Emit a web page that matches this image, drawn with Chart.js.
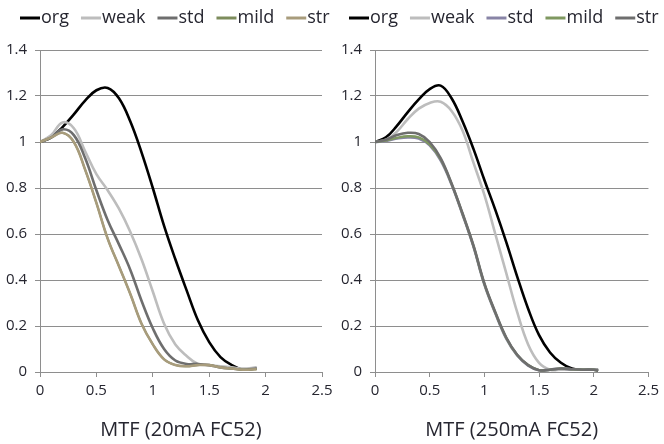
<!DOCTYPE html>
<html>
<head>
<meta charset="utf-8">
<script src="https://cdn.jsdelivr.net/npm/chart.js@4.4.0/dist/chart.umd.min.js"></script>
<style>
html, body { margin: 0; padding: 0; background: #fff; }
#wrap { position: relative; width: 664px; height: 444px; overflow: hidden; }
.box { position: absolute; top: 0; height: 444px; }
#boxL { left: 0; width: 345px; }
#boxR { left: 332px; width: 332px; }
</style>
</head>
<body>
<div id="wrap">
  <div class="box" id="boxL"><canvas id="mtf20" width="345" height="444"></canvas></div>
  <div class="box" id="boxR"><canvas id="mtf250" width="332" height="444"></canvas></div>
</div>
<script>
// series names (legend order)
const seriesNames = ['org', 'weak', 'std', 'mild', 'str'];

// left panel: MTF (20mA FC52)
const freq20 = [0, 0.1, 0.2, 0.3, 0.4, 0.5, 0.6, 0.7, 0.8, 0.9, 1.0, 1.1, 1.2, 1.3, 1.4, 1.5, 1.6, 1.7, 1.8, 1.92];
const org20  = [1, 1.02, 1.065, 1.12, 1.18, 1.225, 1.235, 1.19, 1.09, 0.955, 0.8, 0.635, 0.49, 0.355, 0.225, 0.13, 0.065, 0.03, 0.01, 0.017];
const weak20 = [1, 1.03, 1.085, 1.06, 0.96, 0.86, 0.79, 0.71, 0.61, 0.49, 0.35, 0.21, 0.12, 0.07, 0.035, 0.03, 0.025, 0.02, 0.015, 0.02];
const std20  = [1, 1.02, 1.055, 1.03, 0.93, 0.79, 0.66, 0.555, 0.445, 0.31, 0.19, 0.1, 0.05, 0.035, 0.035, 0.03, 0.02, 0.015, 0.01, 0.015];
const mild20 = [1, 1.02, 1.04, 1.0, 0.88, 0.735, 0.58, 0.46, 0.34, 0.21, 0.12, 0.055, 0.03, 0.025, 0.03, 0.03, 0.02, 0.015, 0.01, 0.012];
const str20  = [1, 1.02, 1.04, 1.0, 0.88, 0.735, 0.58, 0.46, 0.34, 0.21, 0.12, 0.055, 0.03, 0.025, 0.03, 0.03, 0.02, 0.015, 0.01, 0.012];

// right panel: MTF (250mA FC52)
const freq250 = [0, 0.1, 0.2, 0.3, 0.4, 0.5, 0.6, 0.7, 0.8, 0.9, 1.0, 1.1, 1.2, 1.3, 1.4, 1.5, 1.6, 1.7, 1.8, 1.9, 2.0, 2.04];
const org250  = [1, 1.02, 1.07, 1.13, 1.185, 1.23, 1.245, 1.19, 1.09, 0.97, 0.835, 0.705, 0.565, 0.415, 0.275, 0.16, 0.085, 0.04, 0.015, 0.01, 0.01, 0.01];
const weak250 = [1, 1.01, 1.045, 1.1, 1.145, 1.17, 1.175, 1.135, 1.05, 0.91, 0.77, 0.6, 0.43, 0.26, 0.12, 0.04, 0.01, 0.01, 0.01, 0.01, 0.01, 0.01];
const std250  = [1, 1.005, 1.015, 1.02, 1.015, 0.985, 0.92, 0.815, 0.685, 0.545, 0.38, 0.255, 0.145, 0.072, 0.028, 0.008, 0.01, 0.015, 0.012, 0.01, 0.01, 0.005];
const mild250 = [1, 1.006, 1.018, 1.025, 1.02, 0.99, 0.925, 0.818, 0.688, 0.548, 0.383, 0.258, 0.148, 0.074, 0.03, 0.008, 0.01, 0.015, 0.012, 0.01, 0.01, 0.005];
const str250  = [1, 1.01, 1.03, 1.04, 1.035, 1.0, 0.93, 0.82, 0.69, 0.55, 0.385, 0.26, 0.15, 0.075, 0.03, 0.008, 0.01, 0.015, 0.012, 0.01, 0.01, 0.005];

// axis ticks
const xMin = 0, xMax = 2.5, xStep = 0.5;
const yMin = 0, yMax = 1.4, yStep = 0.2;

const colors20  = ['#000000', '#bdbdbd', '#6e6e6e', '#7d8c5c', '#a89c7c'];
const colors250 = ['#000000', '#bdbdbd', '#8884a6', '#7f9860', '#6e6e6e'];
const widths20  = [2.6, 2.6, 2.6, 2, 2.6];
const widths250 = [2.6, 2.6, 2.6, 2.4, 2.6];

const FONT = "'Open Sans', sans-serif";
const textColor = '#262630';
const gridColor = '#8e8e8e';

// legend drawn as short line + label, Excel style
const lineLegend = {
  id: 'lineLegend',
  afterDraw(chart, args, opts) {
    const ctx = chart.ctx;
    ctx.save();
    ctx.font = '18px ' + FONT;
    ctx.textBaseline = 'middle';
    let x = opts.x;
    const y = opts.y;
    chart.data.datasets.forEach(ds => {
      ctx.strokeStyle = ds.borderColor;
      ctx.lineWidth = 3;
      ctx.beginPath();
      ctx.moveTo(x, y);
      ctx.lineTo(x + 20, y);
      ctx.stroke();
      x += 21;
      ctx.fillStyle = textColor;
      ctx.fillText(ds.label, x, y);
      x += ctx.measureText(ds.label).width + 12;
    });
    ctx.restore();
  }
};

const fmt = v => String(Number(v.toFixed(1)));

function makeChart(id, xs, values, colors, widths, title, yWidth, rightPad, legendX) {
  const datasets = values.map((vals, i) => ({
    label: seriesNames[i],
    data: vals.map((v, j) => ({ x: xs[j], y: v })),
    borderColor: colors[i],
    borderWidth: widths[i],
    pointRadius: 0,
    fill: false,
    tension: 0.4,
    order: values.length - i
  }));

  return new Chart(document.getElementById(id), {
    type: 'line',
    data: { datasets },
    plugins: [lineLegend],
    options: {
      responsive: false,
      animation: false,
      layout: { padding: { top: 50, left: 0, right: rightPad, bottom: 0 } },
      plugins: {
        legend: { display: false },
        tooltip: { enabled: false },
        lineLegend: { x: legendX, y: 18 }
      },
      scales: {
        x: {
          type: 'linear',
          min: xMin,
          max: xMax,
          ticks: { stepSize: xStep, color: textColor, font: { family: FONT, size: 15 }, padding: 5, maxRotation: 0, callback: fmt },
          grid: { drawOnChartArea: false, drawTicks: true, tickLength: 5, color: gridColor },
          border: { color: gridColor },
          title: { display: true, text: title, color: textColor, font: { family: FONT, size: 20 }, padding: { top: 0, bottom: 2 } },
          afterFit(s) { s.height = 72; }
        },
        y: {
          min: yMin,
          max: yMax,
          ticks: { stepSize: yStep, color: textColor, font: { family: FONT, size: 15 }, padding: 8, callback: fmt },
          grid: { color: gridColor, tickLength: 5 },
          border: { color: gridColor },
          afterFit(s) { s.width = yWidth; }
        }
      }
    }
  });
}

makeChart('mtf20', freq20, [org20, weak20, std20, mild20, str20], colors20, widths20, 'MTF (20mA FC52)', 40, 23, 20);
makeChart('mtf250', freq250, [org250, weak250, std250, mild250, str250], colors250, widths250, 'MTF (250mA FC52)', 43, 12, 17);
</script>
</body>
</html>
